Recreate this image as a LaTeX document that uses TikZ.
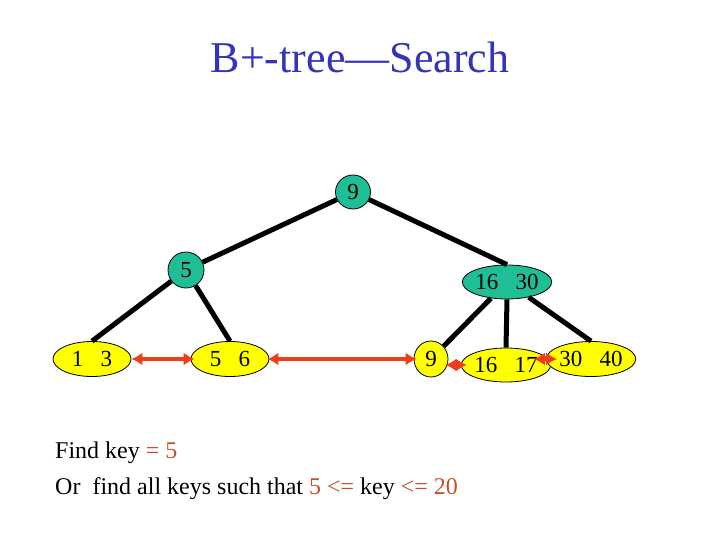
\documentclass[tikz,border=0pt]{standalone}
\usepackage{fontspec}
\setmainfont{Liberation Serif}
\usetikzlibrary{positioning}
\usetikzlibrary{shapes.geometric}
\usetikzlibrary{arrows.meta}
\definecolor{innergreen}{RGB}{30,190,150}
\definecolor{leafyellow}{RGB}{255,255,0}
\definecolor{linkred}{RGB}{238,62,24}
\definecolor{keyred}{RGB}{200,78,40}
\definecolor{titleblue}{RGB}{51,51,187}

\begin{document}
\begin{tikzpicture}[
x=1pt, y=-1pt,
innernode/.style={ellipse, draw=black, thick, fill=innergreen, inner sep=0pt,
minimum height=34pt, font=\fontsize{23}{23}\selectfont},
leafnode/.style={ellipse, draw=black, thick, fill=leafyellow, inner sep=0pt,
minimum height=35pt, minimum width=78pt, font=\fontsize{23}{23}\selectfont},
treeline/.style={line width=5pt, black},
linkline/.style={line width=4pt, linkred, {Latex[length=11pt,width=13pt]}-{Latex[length=11pt,width=13pt]}},
textnode/.style={anchor=base west, inner sep=0pt, font=\fontsize{24}{24}\selectfont}
]
\useasboundingbox (0,0) rectangle (720,540);

%Title
\node[anchor=base, inner sep=0pt, text=titleblue, font=\fontsize{44}{44}\selectfont] (title) at (360,73) {B+-tree---Search};

%Nodes
\node[innernode, minimum width=35pt] (root) at (353,192) {9};
\node[innernode, minimum width=36pt, minimum height=36pt] (inner5) at (186,270) {5};
\node[innernode, minimum width=79pt] (inner1630) at (507,282) {16~~~30};
\node[leafnode] (leaf13) at (92,359) {1~~~3};
\node[leafnode] (leaf56) at (230,359) {5~~~6};
\node[leafnode, minimum width=34pt, minimum height=36pt] (leaf9) at (431,359) {9};
\node[leafnode, minimum height=34pt] (leaf1617) at (506,365) {16~~~17};
\node[leafnode] (leaf3040) at (591,359) {30~~~40};

%Lines
\draw[treeline] (root) -- (inner5);
\draw[treeline] (root) -- (inner1630.north);
\draw[treeline] (inner5) -- (leaf13.north);
\draw[treeline] (inner5) -- (leaf56.north);
\draw[treeline] (inner1630) -- (leaf9);
\draw[treeline] (inner1630.south) -- (leaf1617.north);
\draw[treeline] (inner1630) -- (leaf3040.north);

%Links between leaves
\draw[linkline, shorten >=-4pt] (leaf13.east) -- (leaf56.west);
\draw[linkline, shorten <=-2pt, shorten >=-3pt] (leaf56.east) -- (leaf9.west);
\draw[linkline, shorten <=-3pt, shorten >=-6pt] (leaf9.east |- leaf1617.west) -- (leaf1617.west);
\draw[linkline, shorten <=-6pt, shorten >=-12pt] (leaf1617.east |- leaf3040.west) -- (leaf3040.west);

%Text
\node[textnode] (find) at (55,458) {Find key {\color{keyred}= 5}};
\node[textnode] (range) at (55,494) {Or\ \ find all keys such that {\color{keyred}5 <=} key {\color{keyred}<= 20}};

\end{tikzpicture}
\end{document}
